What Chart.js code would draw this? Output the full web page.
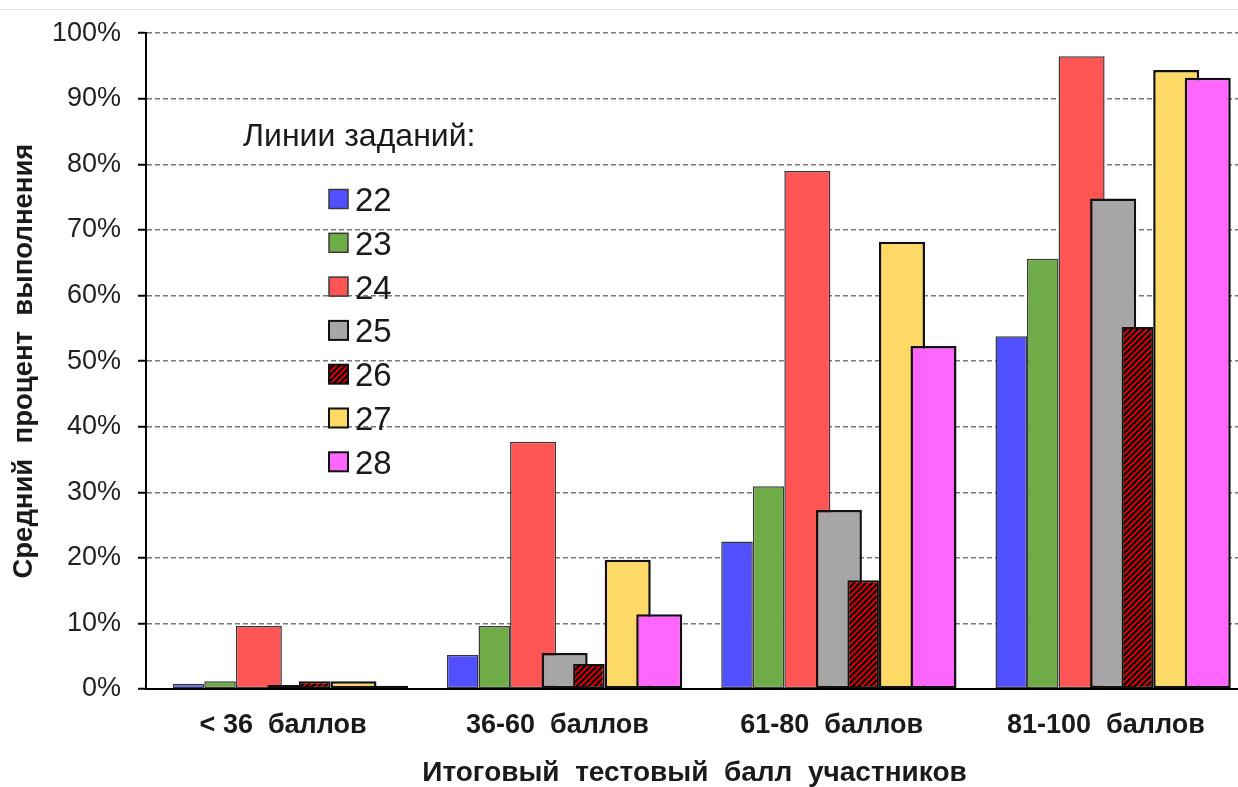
<!DOCTYPE html>
<html lang="ru">
<head>
<meta charset="UTF-8">
<title>Средний процент выполнения</title>
<script src="https://cdn.jsdelivr.net/npm/chart.js@4.4.0/dist/chart.umd.min.js"></script>
<style>
  * { box-sizing: border-box; margin: 0; padding: 0; }
  body { background: #fff; overflow: hidden; width: 1238px; height: 787px; position: relative; }
  .wrap { position: absolute; left: 0; top: 0; width: 1245px; height: 787px; }
  .topline { position: absolute; left: 0; top: 9px; width: 1238px; height: 1px; background: #e4e4e4; }
</style>
</head>
<body>
<div class="topline"></div>
<div class="wrap"><canvas id="chart"></canvas></div>

<script>
// группы по итоговому баллу
const categories = ['< 36  баллов', '36-60  баллов', '61-80  баллов', '81-100  баллов'];
// линии заданий
const taskLines = ['22', '23', '24', '25', '26', '27', '28'];
// средний процент выполнения, по линиям
const line22 = [0.8, 5.2, 22.5, 53.8];
const line23 = [1.2, 9.6, 30.9, 65.6];
const line24 = [9.6, 37.7, 79.0, 96.5];
const line25 = [0.6, 5.5, 27.3, 74.8];
const line26 = [1.2, 3.8, 16.6, 55.2];
const line27 = [1.2, 19.7, 68.2, 94.4];
const line28 = [0.5, 11.4, 52.3, 93.2];
const yTicks = [0, 10, 20, 30, 40, 50, 60, 70, 80, 90, 100];

const FONT = "'Liberation Sans', Arial, sans-serif";

// штриховка для линии 26
function hatch() {
  const c = document.createElement('canvas');
  c.width = 6; c.height = 6;
  const g = c.getContext('2d');
  g.fillStyle = '#000';
  g.fillRect(0, 0, 6, 6);
  g.strokeStyle = '#d40000';
  g.lineWidth = 2.2;
  g.beginPath();
  g.moveTo(-1, 7); g.lineTo(7, -1);
  g.moveTo(-4, 4); g.lineTo(4, -4);
  g.moveTo(2, 10); g.lineTo(10, 2);
  g.stroke();
  return g.createPattern(c, 'repeat');
}

const values = [line22, line23, line24, line25, line26, line27, line28];
const fills = ['#5050ff', '#6fab46', '#ff5555', '#a6a6a6', hatch(), '#ffd966', '#ff66ff'];
const edges = ['#3a3a3a', '#3a3a3a', '#3a3a3a', '#111', '#111', '#111', '#111'];
const edgeW = [1.5, 1.5, 1.5, 2.5, 2, 2.5, 2.5];
const wideBars = [1, 1, 1.46, 1.46, 1, 1.46, 1.46];

const datasets = taskLines.map((name, i) => ({
  label: name,
  data: values[i],
  backgroundColor: fills[i],
  borderColor: edges[i],
  borderWidth: edgeW[i],
  borderSkipped: false,
  wide: wideBars[i],
}));

// в оригинале часть столбцов шире своей ячейки и заходит на соседний
const widenPlugin = {
  id: 'widen',
  afterDatasetsUpdate(chart) {
    chart.data.datasets.forEach((ds, i) => {
      if (!ds.wide || ds.wide === 1) return;
      chart.getDatasetMeta(i).data.forEach(bar => {
        const extra = bar.width * (ds.wide - 1);
        bar.x += extra / 2;
        bar.width += extra;
      });
    });
  },
  // рисуем по порядку: следующий столбец поверх предыдущего
  beforeDatasetsDraw(chart) {
    chart.data.datasets.forEach((ds, i) => chart.getDatasetMeta(i).controller.draw());
    return false;
  }
};

// легенда внутри области графика
const legendPlugin = {
  id: 'innerLegend',
  afterDraw(chart) {
    const ctx = chart.ctx;
    const a = chart.chartArea;
    const x0 = a.left + 97;
    ctx.save();
    ctx.fillStyle = '#1a1a1a';
    ctx.font = `32px ${FONT}`;
    ctx.textBaseline = 'alphabetic';
    ctx.fillText('Линии заданий:', x0, 146);
    chart.data.datasets.forEach((ds, i) => {
      const cy = 199 + i * 43.8;
      const bx = x0 + 86;
      ctx.fillStyle = ds.backgroundColor;
      ctx.fillRect(bx, cy - 9.5, 19, 19);
      ctx.strokeStyle = ds.borderColor;
      ctx.lineWidth = Math.min(ds.borderWidth, 2);
      ctx.strokeRect(bx, cy - 9.5, 19, 19);
      ctx.fillStyle = '#1a1a1a';
      ctx.font = `33px ${FONT}`;
      ctx.fillText(ds.label, bx + 26, cy + 12);
    });
    ctx.restore();
  }
};

new Chart(document.getElementById('chart'), {
  type: 'bar',
  data: { labels: categories, datasets },
  options: {
    responsive: true,
    maintainAspectRatio: false,
    animation: false,
    layout: { padding: { top: 31, right: 2, left: 0, bottom: 0 } },
    datasets: { bar: { categoryPercentage: 0.805, barPercentage: 1 } },
    plugins: { legend: { display: false }, tooltip: { enabled: false } },
    scales: {
      x: {
        grid: { display: false },
        border: { display: true, color: '#000', width: 2 },
        ticks: { color: '#1a1a1a', font: { family: FONT, size: 27, weight: 'bold' }, padding: 12, maxRotation: 0 },
        title: {
          display: true,
          text: 'Итоговый  тестовый  балл  участников',
          color: '#1a1a1a',
          font: { family: FONT, size: 28, weight: 'bold', lineHeight: 1 },
          padding: { top: 0, bottom: 0 }
        },
        afterFit: s => { s.height = 98; }
      },
      y: {
        min: 0,
        max: 100,
        afterBuildTicks: s => { s.ticks = yTicks.map(v => ({ value: v })); },
        grid: {
          color: '#777',
          lineWidth: 1.5,
          borderDash: [5, 3],
          drawTicks: true,
          tickLength: 8,
          tickColor: '#000',
          tickWidth: 2,
          tickBorderDash: []
        },
        border: { display: true, color: '#000', width: 2, dash: [5, 3] },
        ticks: {
          color: '#222',
          font: { family: FONT, size: 27 },
          padding: 17,
          callback: v => v + '%'
        },
        title: {
          display: true,
          text: 'Средний  процент  выполнения',
          color: '#1a1a1a',
          font: { family: FONT, size: 27.5, weight: 'bold', lineHeight: 1.2 },
          padding: { top: 8, bottom: 0 }
        },
        afterFit: s => { s.width = 146; }
      }
    }
  },
  plugins: [widenPlugin, legendPlugin]
});
</script>
</body>
</html>
